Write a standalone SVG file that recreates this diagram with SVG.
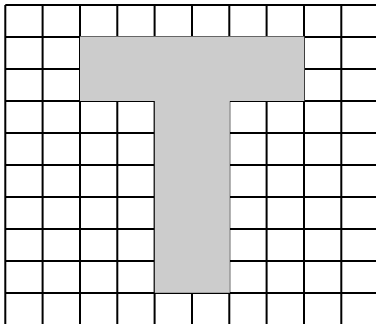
<svg xmlns="http://www.w3.org/2000/svg" width="376" height="324" viewBox="0 0 376 324">
<style>
.g{stroke:#000;stroke-width:2;fill:none}
.t{fill:#cccccc;stroke:none}
</style>
<rect width="376" height="324" fill="#fff"/>
<g id="grid" class="g">
<path d="M5.3 5V324M42.6 5V324M80 5V324M117.3 5V324M154.6 5V324M192 5V324M229.3 5V324M266.6 5V324M304 5V324M341.3 5V324"/>
<path d="M5.3 5H376M5.3 37H376M5.3 69H376M5.3 101H376M5.3 133H376M5.3 165H376M5.3 197H376M5.3 229H376M5.3 261H376M5.3 293H376"/>
</g>
<g id="T">
<rect class="t" x="80" y="36.5" width="224.3" height="64.5"/>
<rect class="t" x="154.8" y="100" width="75" height="192.8"/>
</g>
</svg>
